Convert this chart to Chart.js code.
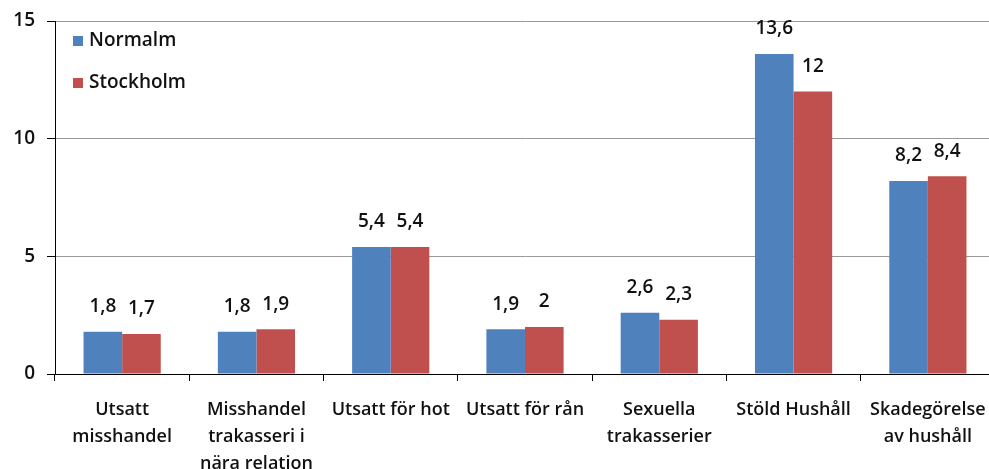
<!DOCTYPE html>
<html>
<head>
<meta charset="utf-8">
<script src="https://cdn.jsdelivr.net/npm/chart.js@4.4.0/dist/chart.umd.min.js"></script>
<style>
  html, body { margin: 0; padding: 0; background: #fff; overflow: hidden; }
  /* plot area runs slightly past the right edge in the original, so the canvas is a bit wider than the window */
  #wrap { width: 995px; height: 469px; position: relative; }
</style>
</head>
<body>
<div id="wrap"><canvas id="chart"></canvas></div>
<script>
const categories = [
    ["Utsatt", "misshandel"],
    ["Misshandel", "trakasseri i", "nära relation"],
    ["Utsatt för hot"],
    ["Utsatt för rån"],
    ["Sexuella", "trakasserier"],
    ["Stöld Hushåll"],
    ["Skadegörelse", "av hushåll"]
];
const seriesNames = ["Normalm", "Stockholm"];
const normalm = [1.8, 1.8, 5.4, 1.9, 2.6, 13.6, 8.2];
const stockholm = [1.7, 1.9, 5.4, 2, 2.3, 12, 8.4];
const yTicks = [0, 5, 10, 15];

const FONT = "'Open Sans', Lato, sans-serif";

// value labels above each bar, Swedish decimal comma
const valueLabels = {
    id: 'valueLabels',
    afterDatasetsDraw(chart) {
        const ctx = chart.ctx;
        ctx.save();
        ctx.font = "600 19px " + FONT;
        ctx.fillStyle = '#111';
        ctx.textAlign = 'center';
        ctx.textBaseline = 'middle';
        chart.data.datasets.forEach((ds, i) => {
            chart.getDatasetMeta(i).data.forEach((bar, j) => {
                const txt = String(ds.data[j]).replace('.', ',');
                ctx.fillText(txt, bar.x, bar.y - 25);
            });
        });
        ctx.restore();
    }
};

// legend stacked vertically inside the plot, top left
const innerLegend = {
    id: 'innerLegend',
    afterDraw(chart) {
        const ctx = chart.ctx;
        const area = chart.chartArea;
        ctx.save();
        ctx.font = "600 19px " + FONT;
        ctx.textBaseline = 'middle';
        ctx.textAlign = 'left';
        chart.data.datasets.forEach((ds, i) => {
            const y = area.top + 20 + i * 42;
            ctx.fillStyle = ds.backgroundColor;
            ctx.fillRect(area.left + 18, y - 5, 10, 10);
            ctx.fillStyle = '#111';
            ctx.fillText(ds.label, area.left + 34, y);
        });
        ctx.restore();
    }
};

new Chart(document.getElementById('chart'), {
    type: 'bar',
    data: {
        labels: categories,
        datasets: [
            {
                label: seriesNames[0],
                data: normalm,
                backgroundColor: '#4F81BD',
                borderWidth: 0
            },
            {
                label: seriesNames[1],
                data: stockholm,
                backgroundColor: '#C0504D',
                borderWidth: 0
            }
        ]
    },
    options: {
        responsive: true,
        maintainAspectRatio: false,
        animation: false,
        layout: {
            padding: { top: 21, right: 0, left: 0, bottom: 0 }
        },
        datasets: {
            bar: {
                categoryPercentage: 0.575,
                barPercentage: 1
            }
        },
        plugins: {
            legend: { display: false },
            tooltip: { enabled: false }
        },
        scales: {
            x: {
                grid: {
                    offset: true,
                    drawOnChartArea: false,
                    drawTicks: true,
                    tickLength: 7,
                    color: '#000'
                },
                border: { color: '#000', width: 1 },
                ticks: {
                    color: '#111',
                    font: { family: FONT, size: 18, weight: '600', lineHeight: 1.5 },
                    padding: 15,
                    maxRotation: 0,
                    autoSkip: false
                },
                afterFit(scale) {
                    scale.height = 95;
                    scale.paddingLeft = 0;
                    scale.paddingRight = 0;
                }
            },
            y: {
                min: 0,
                max: 15,
                afterBuildTicks(scale) {
                    scale.ticks = yTicks.map(v => ({ value: v }));
                },
                grid: {
                    color: '#999',
                    tickLength: 8,
                    tickColor: '#000',
                    lineWidth: 1
                },
                border: { color: '#000', width: 1 },
                ticks: {
                    color: '#111',
                    font: { family: FONT, size: 19, weight: '600' },
                    padding: 12
                },
                afterFit(scale) {
                    scale.width = 55;
                    scale.paddingTop = 0;
                    scale.paddingBottom = 0;
                }
            }
        }
    },
    plugins: [valueLabels, innerLegend]
});
</script>
</body>
</html>
